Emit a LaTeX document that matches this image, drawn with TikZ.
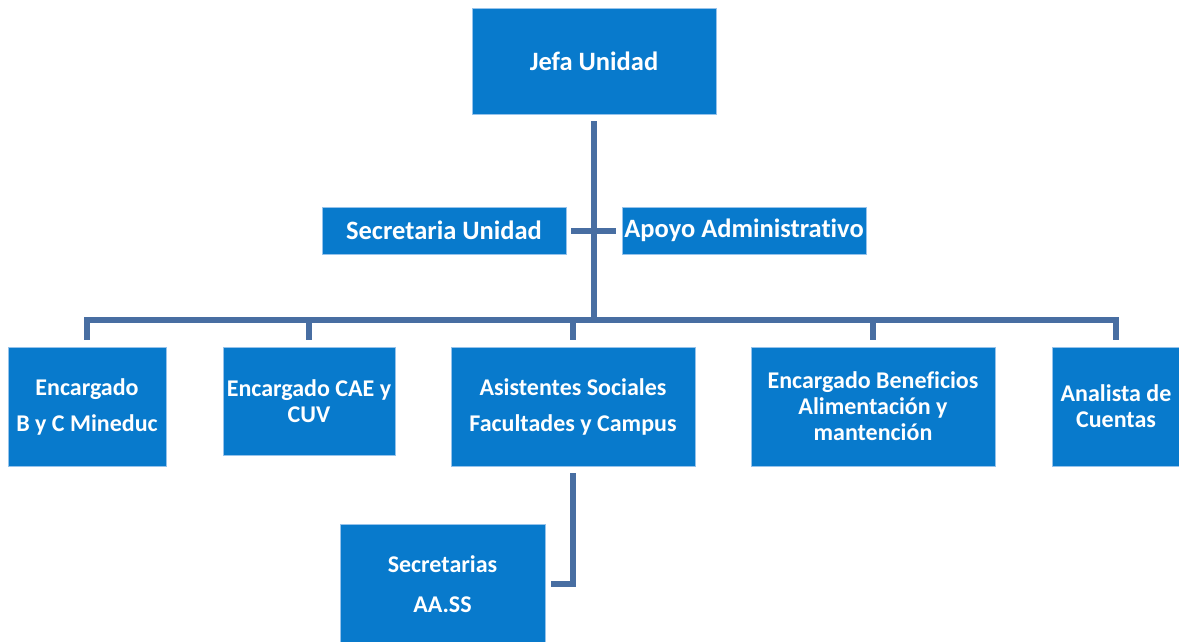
\documentclass[tikz,border=0pt]{standalone}
\usepackage{fontspec}
\setmainfont{Carlito}[Ligatures=NoCommon]
\definecolor{boxblue}{RGB}{8,122,204}
\definecolor{boxedge}{RGB}{150,195,235}
\definecolor{linkblue}{RGB}{72,110,162}
\begin{document}
\begin{tikzpicture}[x=1pt,y=-1pt,
  orgbox/.style={fill=boxblue,draw=boxedge,line width=0.8pt,text=white,
    font=\fontsize{24}{26}\selectfont\bfseries,align=center,inner sep=0pt,anchor=center},
  topbox/.style={orgbox,font=\fontsize{26.5}{30}\selectfont\bfseries},
  link/.style={draw=linkblue,line width=6pt}]
\useasboundingbox (0,0) rectangle (1179,641);
\node[topbox,minimum width=244,minimum height=106] (jefa) at (594,61) {Jefa Unidad};
\node[topbox,minimum width=244,minimum height=47] (sec) at (444,230.5) {Secretaria Unidad};
\node[topbox,minimum width=244,minimum height=47] (apo) at (744,230.5) {Apoyo Administrativo};
\node[orgbox,minimum width=158,minimum height=119] (b1) at (87,406.5) {Encargado\\[10pt]B y C Mineduc};
\node[orgbox,minimum width=172,minimum height=108] (b2) at (309,401) {Encargado CAE y\\CUV};
\node[orgbox,minimum width=244,minimum height=119] (b3) at (573,406.5) {Asistentes Sociales\\[10pt]Facultades y Campus};
\node[orgbox,minimum width=244,minimum height=119] (b4) at (873,406.5) {Encargado Beneficios\\Alimentación y\\mantención};
\node[orgbox,minimum width=128,minimum height=119] (b5) at (1116,406.5) {Analista de\\Cuentas};
\node[orgbox,minimum width=205,minimum height=120] (secr) at (442.5,584) {Secretarias\\[14pt]AA.SS};
\coordinate (bus) at (594,320);
\draw[link] ([yshift=-7pt]jefa.south) -- (bus);
\draw[link] ([xshift=5pt]sec.east) -- ([xshift=-6pt]apo.west);
\foreach \b in {b1,b2,b3,b4,b5}
  \draw[link,shorten >=7pt] (bus) -| (\b.north);
\draw[link] ([yshift=-7pt]b3.south) |- ([xshift=6pt]secr.east);
\end{tikzpicture}
\end{document}
